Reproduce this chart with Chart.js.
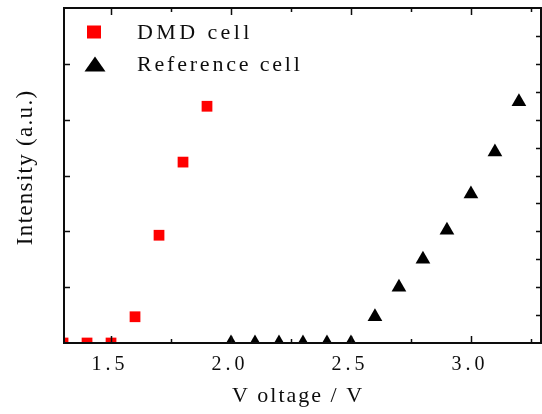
<!DOCTYPE html>
<html><head><meta charset="utf-8">
<script src="https://cdn.jsdelivr.net/npm/chart.js@4"></script>
<style>html,body{margin:0;padding:0;background:#fff;overflow:hidden}#wrap{width:542px;height:414px;position:relative}</style>
</head><body><div id="wrap"><canvas id="c"></canvas></div>
<script>
const dmdVoltage = [1.3, 1.4, 1.5, 1.6, 1.7, 1.8, 1.9];
const dmdIntensity = [0, 0, 0, 0.47, 1.93, 3.24, 4.24];
const refVoltage = [2.0, 2.1, 2.2, 2.3, 2.4, 2.5, 2.6, 2.7, 2.8, 2.9, 3.0, 3.1, 3.2];
const refIntensity = [0, 0, 0, 0, 0, 0, 0.47, 1.0, 1.5, 2.02, 2.67, 3.42, 4.32];
const seriesLabels = ['DMD cell', 'Reference cell'];
const xTickValues = [1.5, 2.0, 2.5, 3.0];
const xTickLabels = ['1.5', '2.0', '2.5', '3.0'];
const xMinorTicks = [1.75, 2.25, 2.75, 3.25];
const yMajorTicks = [1, 2, 3, 4, 5];
const yRightTicks = [0.5, 1, 1.5, 2, 2.5, 3, 3.5, 4, 4.5, 5, 5.5];
const xTitle = 'V oltage / V';
const yTitle = 'Intensity (a.u.)';

const INK = '#0d0d0d';
const SERIF = '"Liberation Serif", "DejaVu Serif", serif';

function drawSpaced(ctx, text, x, y, spacing, align) {
  const chars = Array.from(text);
  const widths = chars.map(c => ctx.measureText(c).width);
  const total = widths.reduce((a, b) => a + b, 0) + spacing * (chars.length - 1);
  let cx = align === 'left' ? x : x - total / 2;
  ctx.textAlign = 'left';
  chars.forEach((c, i) => { ctx.fillText(c, cx, y); cx += widths[i] + spacing; });
}

const decor = {
  id: 'decor',
  afterDraw(chart) {
    const ctx = chart.ctx, a = chart.chartArea;
    const xs = chart.scales.x, ys = chart.scales.y;
    ctx.save();
    // frame
    ctx.strokeStyle = INK; ctx.lineWidth = 2;
    ctx.strokeRect(a.left, a.top, a.right - a.left, a.bottom - a.top);
    ctx.lineWidth = 1.5;
    ctx.beginPath();
    const vTick = (v, len) => {
      const px = Math.round(xs.getPixelForValue(v)) + 0.5;
      ctx.moveTo(px, a.top); ctx.lineTo(px, a.top + len);
      ctx.moveTo(px, a.bottom); ctx.lineTo(px, a.bottom - len);
    };
    xTickValues.forEach(v => vTick(v, 7));
    xMinorTicks.forEach(v => vTick(v, 4));
    yMajorTicks.forEach(v => {
      const py = Math.round(ys.getPixelForValue(v)) + 0.5;
      ctx.moveTo(a.left, py); ctx.lineTo(a.left + 6, py);
    });
    yRightTicks.forEach(v => {
      const py = Math.round(ys.getPixelForValue(v)) + 0.5;
      ctx.moveTo(a.right, py); ctx.lineTo(a.right - 5, py);
    });
    ctx.stroke();
    // tick labels
    ctx.fillStyle = INK;
    ctx.textBaseline = 'middle';
    ctx.font = '20px ' + SERIF;
    xTickValues.forEach((v, i) => {
      drawSpaced(ctx, xTickLabels[i], xs.getPixelForValue(v) - 3, 365, 4, 'center');
    });
    // x title
    ctx.font = '22px ' + SERIF;
    drawSpaced(ctx, xTitle, 297, 396, 2, 'center');
    // y title
    ctx.save();
    ctx.translate(26, 168);
    ctx.rotate(-Math.PI / 2);
    ctx.font = '23px ' + SERIF;
    drawSpaced(ctx, yTitle, 0, 0, 1.3, 'center');
    ctx.restore();
    // legend
    ctx.fillStyle = '#ff0000';
    ctx.fillRect(87, 25.5, 14, 13);
    ctx.fillStyle = '#000';
    ctx.beginPath();
    ctx.moveTo(95, 56.5); ctx.lineTo(105.5, 71.5); ctx.lineTo(84.5, 71.5); ctx.closePath();
    ctx.fill();
    ctx.fillStyle = INK;
    ctx.font = '22px ' + SERIF;
    drawSpaced(ctx, seriesLabels[0], 137, 33, 3.4, 'left');
    drawSpaced(ctx, seriesLabels[1], 137, 65, 2.8, 'left');
    ctx.restore();
  }
};

new Chart(document.getElementById('c'), {
  type: 'scatter',
  data: {
    datasets: [
      {
        label: seriesLabels[0],
        data: dmdVoltage.map((v, i) => ({ x: v, y: dmdIntensity[i] })),
        pointStyle: 'rect', pointRadius: 7.6, backgroundColor: '#ff0000', borderWidth: 0
      },
      {
        label: seriesLabels[1],
        data: refVoltage.map((v, i) => ({ x: v, y: refIntensity[i] })),
        pointStyle: 'triangle', pointRadius: 8.5, backgroundColor: '#000000', borderWidth: 0
      }
    ]
  },
  options: {
    responsive: true, maintainAspectRatio: false, animation: false, devicePixelRatio: 1,
    layout: { autoPadding: false, padding: { top: 8, right: 1, left: 0, bottom: 0 } },
    plugins: { legend: { display: false }, tooltip: { enabled: false } },
    scales: {
      x: {
        type: 'linear', min: 1.304, max: 3.292,
        ticks: { display: false }, grid: { display: false }, border: { display: false },
        afterFit(s) { s.height = 71; }
      },
      y: {
        type: 'linear', min: 0, max: 6,
        ticks: { display: false }, grid: { display: false }, border: { display: false },
        afterFit(s) { s.width = 64; }
      }
    }
  },
  plugins: [decor]
});
</script>
</body></html>
